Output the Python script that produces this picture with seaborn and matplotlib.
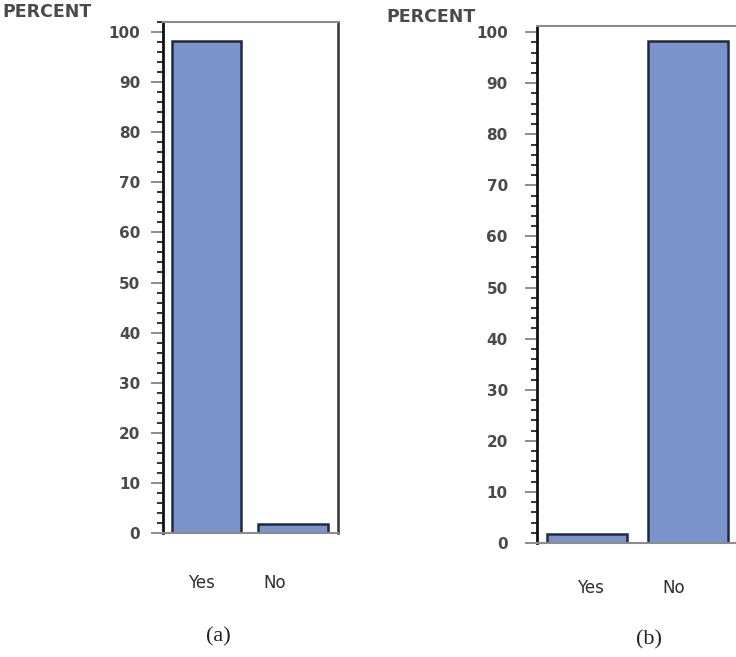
import matplotlib
matplotlib.use("Agg")
import matplotlib.pyplot as plt
from matplotlib.ticker import MultipleLocator
import seaborn as sns
import pandas as pd

# Survey answers, percentage of respondents
categories = ["Yes", "No"]
percent_a = [98.3, 1.7]
percent_b = [1.7, 98.3]
panel_labels = ["(a)", "(b)"]
yticks = [0, 10, 20, 30, 40, 50, 60, 70, 80, 90, 100]

sns.set_theme(style="white")
plt.rcParams["font.family"] = ["DejaVu Sans"]

BAR_FILL = "#7a93cb"
BAR_EDGE = "#1d2a45"
TEXT_GREY = "#4a4a4a"

fig = plt.figure(figsize=(7.36, 6.57), dpi=100)
fig.patch.set_facecolor("white")

# axes rectangles in figure fractions
rects = [
    [163 / 736, 124 / 657, 175 / 736, 511 / 657],
    [537 / 736, 114 / 657, 202 / 736, 517 / 657],
]
ytops = [102, 101.2]
xrights = [1.52, 1.51]
tick_pads = [7.5, 12]
# horizontal shifts of the category labels (in category units) and their height
label_shift = [[-0.06, -0.21], [0.03, -0.14]]
label_y = [-0.098, -0.087]
ylabel_pos = [(2 / 736, 645 / 657), (386 / 736, 640 / 657)]
caption_pos = [(218 / 736, 20 / 657), (649 / 736, 17 / 657)]

for k, values in enumerate([percent_a, percent_b]):
    ax = fig.add_axes(rects[k])
    df = pd.DataFrame({"answer": categories, "percent": values})
    sns.barplot(data=df, x="answer", y="percent", ax=ax, color=BAR_FILL,
                saturation=1, edgecolor=BAR_EDGE, linewidth=1.8, width=0.8)
    ax.set_xlim(-0.5, xrights[k])
    ax.set_ylim(0, ytops[k])
    ax.set_yticks(yticks)
    ax.yaxis.set_minor_locator(MultipleLocator(2))
    ax.set_xticks([])
    ax.set_xlabel("")
    ax.set_ylabel("")
    ax.tick_params(axis="y", which="major", direction="out", length=9, width=1.2,
                   color="#7a7a7a", pad=tick_pads[k], labelsize=11, labelcolor=TEXT_GREY,
                   left=True)
    ax.tick_params(axis="y", which="minor", direction="out", length=4, width=1.4,
                   color="#333333", left=True)
    for lab in ax.get_yticklabels():
        lab.set_fontweight("bold")
    ax.spines["left"].set_color("#111111")
    ax.spines["left"].set_linewidth(2.0)
    ax.spines["right"].set_color("#333333")
    ax.spines["right"].set_linewidth(1.8)
    ax.spines["top"].set_color("#8c8c8c")
    ax.spines["top"].set_linewidth(1.5)
    ax.spines["bottom"].set_color("#8c8c8c")
    ax.spines["bottom"].set_linewidth(1.5)
    for spine in ax.spines.values():
        spine.set_visible(True)

    for i, cat in enumerate(categories):
        ax.text(i + label_shift[k][i], label_y[k], cat,
                transform=ax.get_xaxis_transform(), ha="center", va="center",
                fontsize=12, color="#2e2e2e",
                family=["Liberation Sans Narrow", "DejaVu Sans Condensed", "DejaVu Sans"])

    fig.text(ylabel_pos[k][0], ylabel_pos[k][1], "PERCENT", ha="left", va="center",
             fontsize=12.5, fontweight="bold", color=TEXT_GREY)
    fig.text(caption_pos[k][0], caption_pos[k][1], panel_labels[k], ha="center",
             va="center", fontsize=16, color="#222222", family=["Liberation Serif"])

fig.savefig("out.png", dpi=100, facecolor="white")
